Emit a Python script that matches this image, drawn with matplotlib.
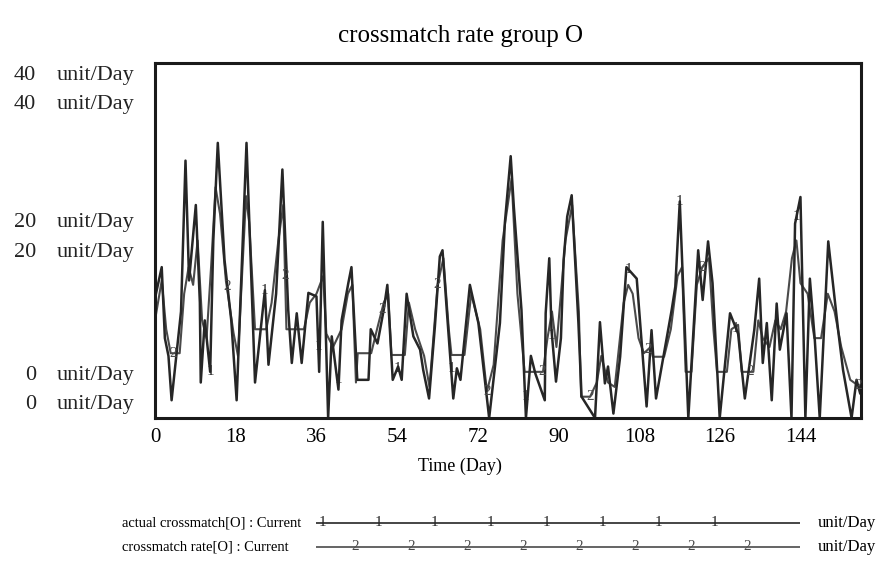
import numpy as np
import matplotlib
matplotlib.use("Agg")
from matplotlib import pyplot as plt

plt.rcParams['font.family'] = ['Liberation Serif', 'DejaVu Serif']

# actual crossmatch[O] : vertices (day, unit/Day)
actual_day = [0, 1.5, 2.2, 3, 3.7, 5.8, 6.8, 7.6, 9.1, 10.0, 10.2, 11.1, 12.3,
              13.0, 14.0, 15.5, 17.0, 18.2, 20.4, 22.3, 24.5, 25.3, 27.0, 28.4,
              29.7, 30.5, 31.6, 32.7, 34.2, 36.0, 36.6, 37.4, 38.6, 39.4, 40.9,
              41.6, 43.1, 43.8, 44.8, 45.1, 47.6, 48.1, 49.6, 51.0, 51.8, 53.0,
              54.2, 55.0, 56.1, 57.6, 59.1, 59.8, 61.1, 62.4, 63.5, 64.1, 65.0,
              66.5, 67.3, 68.1, 70.2, 72.1, 74.5, 76.9, 78.0, 79.3, 80.0, 81.7,
              82.7, 83.8, 84.8, 86.9, 87.1, 87.9, 88.4, 89.4, 90.5, 91.1, 91.9,
              92.9, 94.4, 95.1, 98.1, 99.2, 100.3, 101.0, 102.2, 103.7, 105.1,
              107.4, 109.6, 110.7, 111.7, 115.2, 116.0, 117.0, 118.9, 121.1,
              122.1, 123.3, 124.3, 125.9, 128.2, 130.0, 131.5, 133.6, 134.7,
              135.5, 136.4, 137.5, 138.6, 139.3, 140.8, 141.9, 142.7, 143.9,
              145.0, 146.0, 147.1, 148.2, 150.1, 152.3, 153.4, 155.3, 156.4,
              157.2]
actual_val = [13.5, 17, 9, 7, 2, 12, 29, 15.5, 24, 13, 4, 11, 5.2,
              20, 31, 17.8, 11, 2, 31, 4, 14.4, 6, 14, 28,
              12.2, 6.2, 11.8, 6.2, 14.1, 13.7, 5.2, 22.1, 0, 9.2, 3.2,
              11, 15.2, 17, 7.3, 4.3, 4.3, 10, 8.4, 12.2, 15, 4.3,
              5.8, 4.3, 14, 9.2, 7.7, 5.4, 2.2, 10.3, 18.2, 18.9, 12.5,
              2.2, 5.6, 4.3, 15, 10.7, 0, 10.7, 22, 29.5, 23.8, 12.2,
              0, 7, 5, 2, 11.8, 18, 9.9, 4.1, 9, 17.8, 22.7,
              25.1, 10.7, 2.4, 0, 10.8, 3.9, 5.8, 0.5, 6.9, 17,
              15.7, 1.3, 9.9, 2.2, 12.2, 14.8, 24.4, 0, 18.9,
              13.3, 19.9, 15.2, 0, 11.8, 9.5, 2.2, 9.9, 15.7,
              6.2, 10.7, 2, 12.9, 7.7, 11.8, 0, 21.9, 24.9,
              0, 15.7, 8.8, 0, 19.9, 9.9, 5.4, 0, 4.3,
              2.8]

# crossmatch rate[O] : smoother series with flat stretches
rate_day = [0, 1.5, 2.5, 3.5, 5.5, 6.5, 7.5, 8.5, 9.5, 10.5, 11.5, 12.5, 13.5,
            14.5, 15.8, 17.5, 18.5, 19.6, 20.3, 21.0, 22.3, 24.8, 26.0, 27.5,
            28.6, 29.3, 33.2, 34.5, 36.0, 37.5, 38.2, 39.7, 41.6, 43.0, 44.0,
            44.8, 45.2, 48.2, 49.5, 51.0, 52.0, 52.7, 55.7, 56.6, 58.0, 60.0,
            61.2, 63.0, 64.3, 65.5, 66.1, 69.0, 70.5, 72.5, 74.0, 75.5, 77.5,
            79.5, 80.8, 82.4, 86.5, 87.5, 88.5, 89.5, 91.5,
            93.0, 94.5, 95.0, 97.0, 98.5, 99.5, 101.0, 102.5, 104.5, 105.5,
            106.5, 107.8, 109.0, 110.5, 111.0, 113.5, 115.0, 116.5, 117.5,
            118.3, 119.6, 120.8, 122.0, 123.5, 124.5, 125.3, 127.5, 128.5,
            130.0, 130.8, 133.4, 134.5, 135.5, 137.0, 138.3, 139.5, 140.7,
            142.0, 143.0, 143.9, 145.5, 147.0, 148.5, 150.0, 151.5, 153.0,
            155.0, 157.2]
rate_val = [11, 15.5, 10, 7.3, 7.3, 14, 17, 15, 20, 11, 9, 17, 26,
            23, 15.5, 9.6, 7, 18, 25, 22, 10, 10, 13, 20,
            24, 10, 10, 13, 14, 16, 9.5, 8, 10, 14, 15,
            4, 7.3, 7.3, 10, 13, 14, 7.1, 7.1, 13, 10, 7,
            3.5, 15, 18, 10, 7.1, 7.1, 14, 10, 3, 6, 20,
            27, 14, 5.2, 5.2, 9, 12, 8, 20,
            24, 12, 2.4, 2.4, 4, 7, 4, 3.5, 13, 15,
            14, 9, 7.3, 8, 6.9, 6.9, 10, 16, 17,
            5.2, 5.2, 15, 17, 18, 10, 5.2, 5.2, 10,
            10.5, 5.2, 5.2, 11, 9, 8, 11, 10, 12,
            18, 20, 15.2, 14, 9, 9, 14, 12, 8,
            4.3, 3.5]

marker1_days = [12.3, 24.5, 36.4, 41, 54, 66, 82.5, 88.5, 105.5, 117, 129.5, 143]
marker2_days = [4, 16, 29, 50.6, 63, 74, 86.3, 97, 110, 122, 132.6, 156.7]

x_ticks = [0, 18, 36, 54, 72, 90, 108, 126, 144]
y_levels = [40, 20, 0]
# two stacked labels per level (one per series), in data units
y_label_pos = [(38.6, 35.3), (22.0, 18.6), (4.8, 1.5)]

W, H = 876, 566
fig = plt.figure(figsize=(W / 100, H / 100), dpi=100)

def fx(px):
    return px / W

def fy(py):
    return 1 - py / H

ax = fig.add_axes([fx(155), fy(418), fx(861) - fx(155), fy(63) - fy(418)])
line_col = '#262626'
rate_col = '#4a4a4a'
ax.plot(rate_day, rate_val, color=rate_col, lw=1.5)
ax.plot(actual_day, actual_val, color=line_col, lw=1.8)

for d in marker1_days:
    ax.text(d, np.interp(d, actual_day, actual_val), '1', fontsize=11,
            ha='center', va='center', color=line_col)
for d in marker2_days:
    ax.text(d, np.interp(d, rate_day, rate_val), '2', fontsize=11,
            ha='center', va='center', color=rate_col)

ax.set_xlim(0, 157.4)
ax.set_ylim(0, 40)
ax.set_xticks(x_ticks)
ax.set_xticklabels([str(t) for t in x_ticks], fontsize=15)
ax.tick_params(axis='x', length=0, pad=7)
ax.set_yticks([])
for s in ax.spines.values():
    s.set_linewidth(2.2)
    s.set_color('#1a1a1a')

fig.text(fx(460), fy(466), 'Time (Day)', fontsize=13, ha='center', va='center')

for lvl, pair in zip(y_levels, y_label_pos):
    for yy in pair:
        yf = fy(418) + (fy(63) - fy(418)) * yy / 40
        fig.text(fx(36), yf, str(lvl), fontsize=16, ha='right', va='center',
                 color='#222222')
        fig.text(fx(57), yf, 'unit/Day', fontsize=16, ha='left', va='center',
                 color='#222222')

fig.text(fx(460), fy(36), 'crossmatch rate group O', fontsize=18,
         ha='center', va='center')

# legend rows
leg = fig.add_axes([fx(316), fy(556), fx(800) - fx(316), fy(514) - fy(556)])
leg.set_xlim(316, 800)
leg.set_ylim(556, 514)
leg.axis('off')
leg.plot([316, 800], [523, 523], color=line_col, lw=1.2)
leg.plot([316, 800], [547, 547], color=rate_col, lw=1.2)
for i in range(8):
    leg.text(322 + i * 56, 523, '1', fontsize=11, ha='center', va='center',
             color=line_col)
    leg.text(355 + i * 56, 547, '2', fontsize=11, ha='center', va='center',
             color=rate_col)
fig.text(fx(122), fy(523), 'actual crossmatch[O] : Current', fontsize=10.5,
         ha='left', va='center')
fig.text(fx(122), fy(547), 'crossmatch rate[O] : Current', fontsize=10.5,
         ha='left', va='center')
fig.text(fx(818), fy(523), 'unit/Day', fontsize=12, ha='left', va='center')
fig.text(fx(818), fy(547), 'unit/Day', fontsize=12, ha='left', va='center')

fig.savefig('out.png', dpi=100)
